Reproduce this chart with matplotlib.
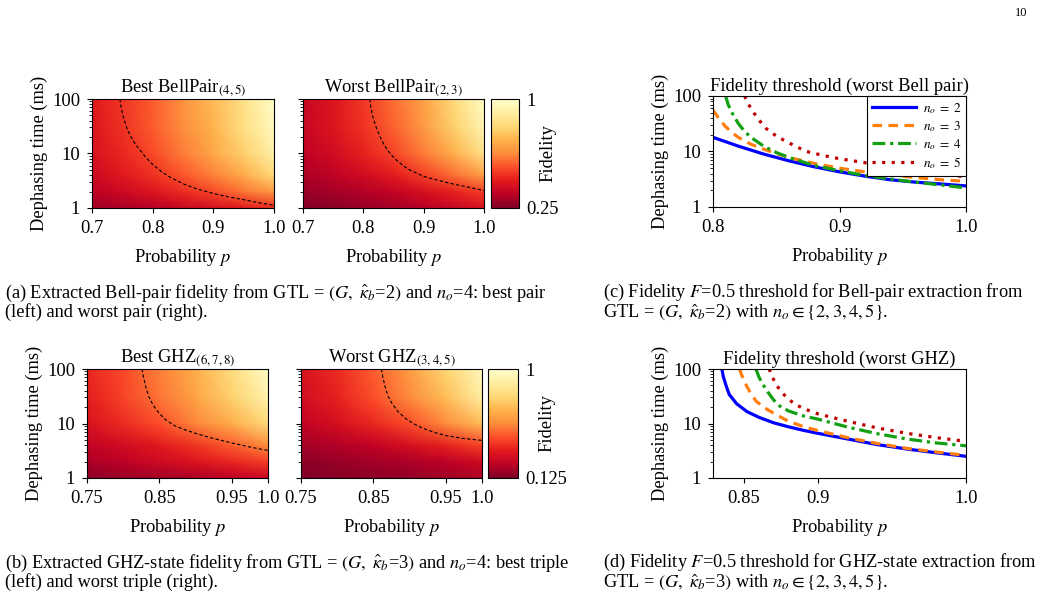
import numpy as np
import matplotlib
matplotlib.use('Agg')
import matplotlib.pyplot as plt
from matplotlib.ticker import LogLocator, NullFormatter

plt.rcParams['font.family'] = ['Liberation Serif', 'DejaVu Serif']
plt.rcParams['mathtext.fontset'] = 'stix'

# heatmap grids
bell_p = [0.7, 0.75, 0.8, 0.85, 0.9, 0.95, 1.0]
ghz_p = [0.75, 0.8, 0.85, 0.9, 0.95, 1.0]
dephase_t = [1, 2, 4, 10, 30, 100]

bell_best_F = [[0.30, 0.32, 0.34, 0.37, 0.40, 0.43, 0.47],
               [0.35, 0.38, 0.42, 0.47, 0.52, 0.59, 0.66],
               [0.38, 0.43, 0.48, 0.54, 0.61, 0.70, 0.81],
               [0.41, 0.46, 0.52, 0.60, 0.69, 0.79, 0.92],
               [0.42, 0.48, 0.55, 0.63, 0.72, 0.84, 0.97],
               [0.43, 0.49, 0.55, 0.64, 0.74, 0.85, 0.99]]
bell_worst_F = [[0.26, 0.27, 0.29, 0.31, 0.34, 0.37, 0.41],
                [0.29, 0.31, 0.33, 0.36, 0.40, 0.45, 0.50],
                [0.32, 0.35, 0.39, 0.44, 0.50, 0.58, 0.67],
                [0.35, 0.39, 0.45, 0.51, 0.60, 0.71, 0.85],
                [0.37, 0.42, 0.48, 0.56, 0.66, 0.79, 0.94],
                [0.37, 0.42, 0.49, 0.58, 0.68, 0.82, 0.98]]
ghz_best_F = [[0.15, 0.17, 0.19, 0.21, 0.24, 0.27],
              [0.21, 0.24, 0.28, 0.32, 0.37, 0.42],
              [0.25, 0.29, 0.34, 0.40, 0.48, 0.57],
              [0.31, 0.38, 0.45, 0.55, 0.66, 0.79],
              [0.35, 0.43, 0.52, 0.63, 0.76, 0.92],
              [0.37, 0.44, 0.54, 0.66, 0.80, 0.98]]
ghz_worst_F = [[0.13, 0.14, 0.15, 0.16, 0.18, 0.21],
               [0.15, 0.17, 0.19, 0.21, 0.24, 0.28],
               [0.19, 0.22, 0.25, 0.30, 0.36, 0.43],
               [0.25, 0.30, 0.37, 0.45, 0.56, 0.70],
               [0.29, 0.36, 0.45, 0.56, 0.70, 0.89],
               [0.31, 0.38, 0.48, 0.61, 0.77, 0.96]]

# F=0.5 dashed contour in each heatmap
bell_best_cp = [0.746, 0.748, 0.752, 0.758, 0.765, 0.772, 0.78, 0.79, 0.8, 0.815,
                0.83, 0.853, 0.875, 0.9, 0.925, 0.95, 0.975, 1.0]
bell_best_ct = [100, 70, 45, 28, 19.5, 14.5, 11.2, 8.2, 6.3, 4.6,
                3.6, 2.7, 2.2, 1.85, 1.6, 1.42, 1.25, 1.12]
bell_worst_cp = [0.811, 0.812, 0.815, 0.82, 0.827, 0.835, 0.845, 0.854, 0.865, 0.875,
                 0.9, 0.925, 0.952, 0.975, 1.0]
bell_worst_ct = [100, 75, 50, 33, 21, 14, 9.8, 7.7, 6.1, 5.1,
                 3.8, 3.2, 2.7, 2.4, 2.1]
ghz_best_cp = [0.826, 0.828, 0.831, 0.835, 0.841, 0.85, 0.86, 0.872, 0.886, 0.9,
               0.92, 0.95, 0.975, 1.0]
ghz_best_ct = [100, 72, 48, 32, 22, 15.2, 11.3, 9.0, 7.6, 6.6,
               5.5, 4.4, 3.7, 3.2]
ghz_worst_cp = [0.861, 0.863, 0.866, 0.87, 0.876, 0.884, 0.895, 0.907, 0.918, 0.935,
                0.95, 0.975, 1.0]
ghz_worst_ct = [100, 72, 48, 32, 23, 16.5, 12.2, 9.7, 8.2, 6.8,
                6.0, 5.3, 4.9]

# threshold curves, worst Bell pair
bell_thr = {
    2: ([0.8, 0.82, 0.84, 0.86, 0.88, 0.9, 0.92, 0.94, 0.96, 0.98, 1.0],
        [18, 12.5, 9, 6.8, 5.3, 4.3, 3.6, 3.1, 2.8, 2.6, 2.4]),
    3: ([0.8, 0.805, 0.81, 0.815, 0.82, 0.83, 0.84, 0.86, 0.88, 0.9, 0.92, 0.94, 0.96, 0.98, 1.0],
        [56, 38, 28, 22, 18, 13.5, 11, 7.8, 6.1, 5.0, 4.3, 3.8, 3.4, 3.1, 2.9]),
    4: ([0.81, 0.812, 0.815, 0.82, 0.825, 0.83, 0.84, 0.85, 0.86, 0.88, 0.9, 0.92, 0.94, 0.96, 0.98, 1.0],
        [100, 70, 50, 32, 23, 18, 12.5, 9.6, 7.8, 5.6, 4.5, 3.7, 3.2, 2.8, 2.5, 2.2]),
    5: ([0.825, 0.827, 0.83, 0.835, 0.842, 0.85, 0.856, 0.865, 0.874, 0.887, 0.9, 0.92, 0.94, 0.96, 0.98, 1.0],
        [100, 78, 60, 40, 26, 19, 16, 12.5, 10, 8.5, 7.4, 6.3, 5.1, 4.4, 3.9, 3.5]),
}
# threshold curves, worst GHZ
ghz_thr = {
    2: ([0.835, 0.836, 0.838, 0.84, 0.845, 0.852, 0.86, 0.87, 0.88, 0.89, 0.9, 0.92, 0.94, 0.96, 0.98, 1.0],
        [100, 72, 48, 34, 23, 16.5, 13, 10.3, 8.7, 7.5, 6.6, 5.2, 4.1, 3.4, 2.9, 2.5]),
    3: ([0.847, 0.848, 0.85, 0.852, 0.855, 0.858, 0.863, 0.87, 0.88, 0.89, 0.9, 0.92, 0.94, 0.96, 0.98, 1.0],
        [100, 82, 62, 47, 34, 26, 20, 15.4, 11, 8.8, 7.4, 5.5, 4.3, 3.5, 3.0, 2.6]),
    4: ([0.858, 0.86, 0.862, 0.866, 0.87, 0.874, 0.88, 0.89, 0.9, 0.92, 0.94, 0.96, 0.98, 1.0],
        [100, 72, 56, 38, 27, 21, 17, 13.8, 12, 8.6, 6.5, 5.2, 4.4, 3.9]),
    5: ([0.867, 0.869, 0.872, 0.876, 0.88, 0.885, 0.892, 0.9, 0.92, 0.94, 0.96, 0.98, 1.0],
        [100, 72, 50, 36, 28, 22, 18, 15, 11, 8.3, 6.6, 5.5, 4.7]),
}
line_style = {2: ('#0000ff', '-'), 3: ('#ff7f0e', (0, (3, 2))),
              4: ('#13a013', (0, (4, 1.5, 1, 1.5))), 5: ('#c00000', (0, (1, 2)))}

W, H = 1040, 599
FS = 13.3
fig = plt.figure(figsize=(W / 100, H / 100), dpi=100)


def ax_px(x0, x1, y0, y1):
    return fig.add_axes([x0 / W, 1 - y1 / H, (x1 - x0) / W, (y1 - y0) / H])


def style_log_y(ax, labels=True):
    ax.set_yscale('log')
    ax.set_ylim(1, 100)
    ax.set_yticks([1, 10, 100])
    ax.set_yticklabels(['1', '10', '100'] if labels else [])
    ax.yaxis.set_minor_locator(LogLocator(base=10, subs=np.arange(2, 10)))
    ax.yaxis.set_minor_formatter(NullFormatter())
    ax.tick_params(which='both', direction='out', labelsize=FS)
    ax.tick_params(which='major', length=3.5, width=0.8, pad=5)
    ax.tick_params(which='minor', length=2.5, width=0.6)
    if labels:
        ax.set_ylabel('Dephasing time (ms)', fontsize=FS, labelpad=3)


def heatmap(ax, ps, F, vmin, title, cp, ct, xticks, xlabels, ylab=True):
    m = ax.pcolormesh(ps, dephase_t, np.array(F), shading='gouraud',
                      cmap='YlOrRd_r', vmin=vmin, vmax=1, rasterized=True)
    ax.plot(cp, ct, color='k', ls=(0, (3, 2)), lw=0.8)
    style_log_y(ax, ylab)
    ax.set_xlim(ps[0], ps[-1])
    ax.set_xticks(xticks)
    ax.set_xticklabels(xlabels)
    ax.set_xlabel('Probability $p$', fontsize=FS, labelpad=7)
    ax.set_title(title, fontsize=FS, pad=4)
    return m


def colorbar(m, cax, lo, lo_lab):
    cb = fig.colorbar(m, cax=cax, ticks=[lo, 1])
    cb.ax.set_yticklabels([lo_lab, '1'])
    cb.ax.tick_params(length=0, labelsize=FS, pad=5)
    cb.outline.set_linewidth(0.8)
    cb.set_label('Fidelity', fontsize=FS)
    w = cax.get_position().width * W
    cb.ax.yaxis.set_label_coords(1 + 20 / w, 0.5)


def threshold(ax, curves, xlim, xticks, xlabels, title, legend):
    for n, (ps, ts) in curves.items():
        c, ls = line_style[n]
        ax.plot(ps, ts, color=c, ls=ls, lw=2.3, label=r'$n_o\;=\;%d$' % n)
    style_log_y(ax)
    ax.set_xlim(*xlim)
    ax.set_xticks(xticks)
    ax.set_xticklabels(xlabels)
    ax.set_xlabel('Probability $p$', fontsize=FS, labelpad=7)
    ax.set_title(title, fontsize=FS, pad=4)
    if legend:
        lg = ax.legend(loc='upper right', fontsize=9.5, borderaxespad=0,
                       fancybox=False, framealpha=1, edgecolor='k',
                       handlelength=3.3, labelspacing=0.24, borderpad=0.38,
                       handletextpad=0.5)
        lg.get_frame().set_linewidth(0.8)


# (a)
a1 = ax_px(92, 274, 99, 208)
a2 = ax_px(303, 484, 99, 208)
ca = ax_px(491, 519, 99, 208)
m = heatmap(a1, bell_p, bell_best_F, 0.25, r'Best BellPair$_{(4,5)}$',
            bell_best_cp, bell_best_ct, [0.7, 0.8, 0.9, 1.0], ['0.7', '0.8', '0.9', '1.0'])
heatmap(a2, bell_p, bell_worst_F, 0.25, r'Worst BellPair$_{(2,3)}$',
        bell_worst_cp, bell_worst_ct, [0.7, 0.8, 0.9, 1.0], ['0.7', '0.8', '0.9', '1.0'], ylab=False)
colorbar(m, ca, 0.25, '0.25')

# (b)
b1 = ax_px(87, 268, 369, 478)
b2 = ax_px(301, 482, 369, 478)
cbx = ax_px(488, 518, 369, 478)
gx = [0.75, 0.85, 0.95, 1.0]
gl = ['0.75', '0.85', '0.95', '1.0']
m = heatmap(b1, ghz_p, ghz_best_F, 0.125, r'Best GHZ$_{(6,7,8)}$',
            ghz_best_cp, ghz_best_ct, gx, gl)
heatmap(b2, ghz_p, ghz_worst_F, 0.125, r'Worst GHZ$_{(3,4,5)}$',
        ghz_worst_cp, ghz_worst_ct, gx, gl, ylab=False)
colorbar(m, cbx, 0.125, '0.125')

# (c), (d)
c_ax = ax_px(713, 966, 96, 207)
threshold(c_ax, bell_thr, (0.8, 1.0), [0.8, 0.9, 1.0], ['0.8', '0.9', '1.0'],
          'Fidelity threshold (worst Bell pair)', True)
d_ax = ax_px(713, 966, 369, 478)
threshold(d_ax, ghz_thr, (0.829, 1.0), [0.85, 0.9, 1.0], ['0.85', '0.9', '1.0'],
          'Fidelity threshold (worst GHZ)', False)

# captions
CAP = 13.2
def caption(x, y, s):
    fig.text(x / W, 1 - y / H, s, fontsize=CAP, ha='left', va='center',
             linespacing=0.95)

caption(5, 302, '(a) Extracted Bell-pair fidelity from GTL = $(G,\\ \\hat{\\kappa}_b$=2$)$ and $n_o$=4: best pair\n'
                '(left) and worst pair (right).')
caption(603, 302, '(c) Fidelity $F$=0.5 threshold for Bell-pair extraction from\n'
                  'GTL = $(G,\\ \\hat{\\kappa}_b$=2$)$ with $n_o \\in \\{2, 3, 4, 5\\}$.')
caption(5, 572, '(b) Extracted GHZ-state fidelity from GTL = $(G,\\ \\hat{\\kappa}_b$=3$)$ and $n_o$=4: best triple\n'
                '(left) and worst triple (right).')
caption(603, 572, '(d) Fidelity $F$=0.5 threshold for GHZ-state extraction from\n'
                  'GTL = $(G,\\ \\hat{\\kappa}_b$=3$)$ with $n_o \\in \\{2, 3, 4, 5\\}$.')

fig.text(1027 / W, 1 - 13 / H, '10', fontsize=9, ha='right', va='center')

fig.savefig('out.png', dpi=100)
